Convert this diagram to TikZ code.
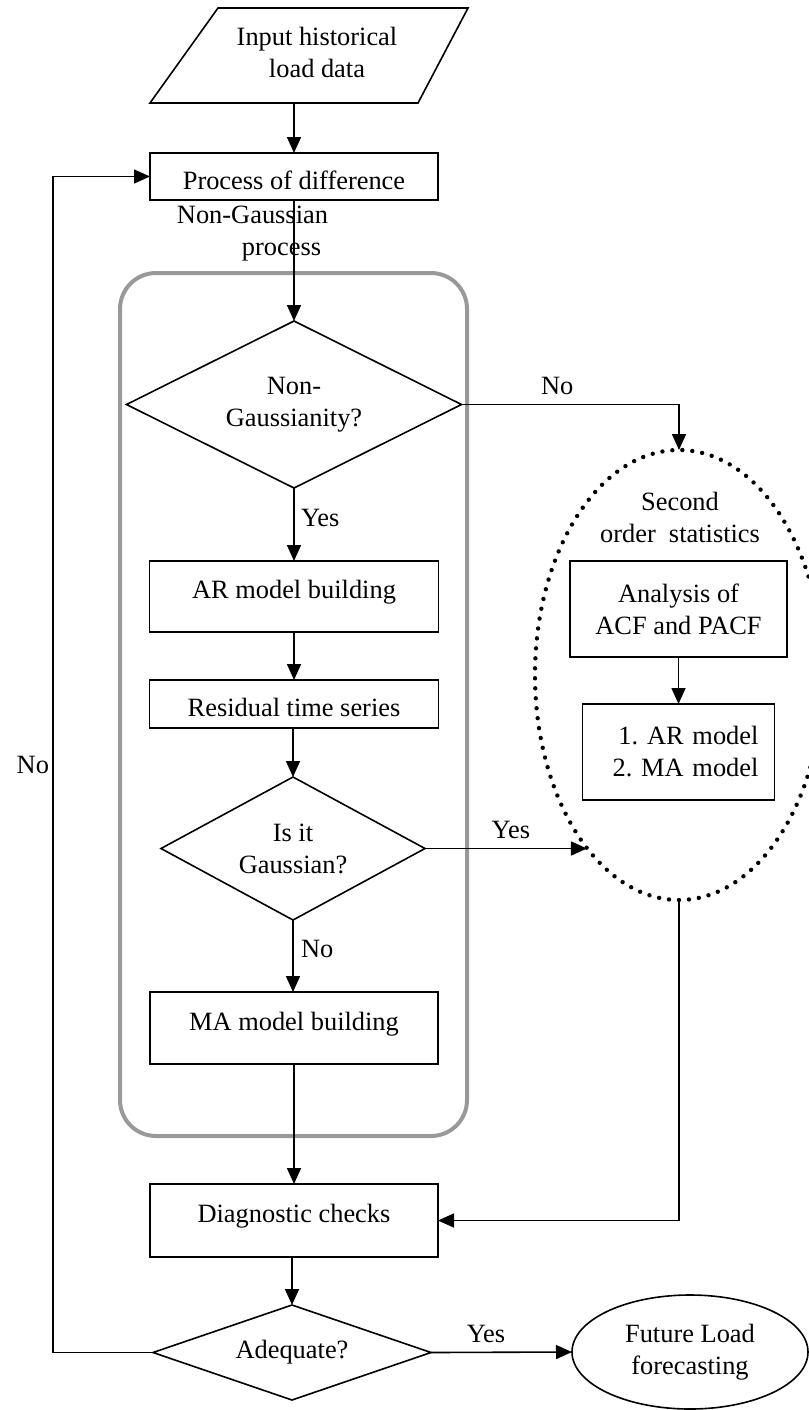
\documentclass[tikz,border=0pt]{standalone}
\usepackage{fontspec}
\setmainfont{Liberation Serif}
\usetikzlibrary{shapes.geometric,arrows.meta}
\definecolor{grpline}{RGB}{153,153,153}
\tikzset{
  base/.style={font=\fontsize{13.2}{16}\selectfont, inner sep=0pt, outer sep=0pt},
  boxs/.style={base, draw, line width=0.8pt, text height=12.5pt, text depth=0pt},
  boxl/.style={base, draw, line width=0.8pt, text height=9.6pt, text depth=7.2pt},
  dec/.style={base, draw, diamond, line width=0.8pt, align=center},
  lbl/.style={base},
  ln/.style={line width=0.8pt},
  arr/.style={line width=0.8pt, -{Triangle[length=8pt,width=7pt]}},
  dots/.style={line width=2.2pt, line cap=round, dash pattern=on 0pt off 5pt}
}
\begin{document}
\begin{tikzpicture}[x=0.5pt,y=-0.5pt]
\useasboundingbox (0,0) rectangle (809,1410);

% group container
\node[base, draw=grpline, line width=2pt, rounded corners=18pt,
      minimum width=173.5pt, minimum height=431.5pt] (grp) at (293.5,704.5) {};

% input parallelogram
\draw[ln] (218,8) -- (468,8) -- (418,103) -- (150,103) -- cycle;
\node[base, align=center] (input) at (317,52) {Input historical\\load data};
\coordinate (inbot) at (294,103);

\node[boxs, minimum width=144pt, minimum height=23.5pt] (proc) at (294,176.5) {Process of difference};
\node[base, align=left] (ngp) at (252.5,234) {Non-Gaussian\\\hspace*{32.5pt}process};

\node[dec, aspect=2.006, minimum width=167.5pt, minimum height=83.5pt] (d1) at (294,404.5) {Non-\\Gaussianity?};
\node[boxl, minimum width=144.5pt, minimum height=35.5pt] (ar) at (294,596.5) {AR model building};
\node[boxs, minimum width=144.5pt, minimum height=24pt] (res) at (294,704) {Residual time series};
\node[dec, aspect=1.846, minimum width=132pt, minimum height=71.5pt] (d2) at (293,848.5) {Is it\\Gaussian?};
\node[boxl, minimum width=144pt, minimum height=36pt] (ma) at (294,1028) {MA model building};
\node[boxl, minimum width=144pt, minimum height=36.5pt] (diag) at (294,1220.5) {Diagnostic checks};
\node[dec, aspect=2.926, minimum width=139pt, minimum height=47.5pt] (adq) at (292,1352.5) {Adequate?};
\node[base, draw, ellipse, line width=0.8pt, align=center,
      minimum width=118pt, minimum height=57pt] (fut) at (690,1352) {Future Load\\forecasting};

% second order statistics group
\node[base, ellipse, draw, dots, minimum width=144pt, minimum height=225pt] (sos) at (679,675) {};
\node[base, align=center] (sostxt) at (680,517) {Second\\order\ \ statistics};
\node[base, draw, line width=0.8pt, align=center,
      minimum width=108.5pt, minimum height=48pt] (acf) at (678.5,609) {Analysis of\\ACF and PACF};
\node[base, draw, line width=0.8pt, align=right, text width=80pt, inner xsep=8pt,
      minimum height=48pt] (mod) at (678.5,752) {1.\ AR model\\2.\ MA model};

\coordinate (loopx) at (53,1352.5);

% connectors
\draw[arr] (inbot) -- (proc.north);
\draw[arr] (proc.south) -- (d1.north);
\draw[arr] (d1.south) -- node[lbl, right=3.5pt, pos=0.41] {Yes} (ar.north);
\draw[arr] (ar.south) -- (res.north);
\draw[arr] (res.south -| d2.north) -- (d2.north);
\draw[arr] (d2.south) -- node[lbl, right=4pt, pos=0.4] {No} (d2.south |- ma.north);
\draw[arr] (ma.south) -- (diag.north);
\draw[arr] (diag.south -| adq.north) -- (adq.north);
\draw[arr] (adq.east) -- node[lbl, above=5pt, pos=0.39] {Yes} (fut.west);
\draw[arr] (d1.east) -| node[lbl, above=5pt, pos=0.22] {No} (sos.north);
\draw[arr] (d2.east) -- node[lbl, above=5pt, pos=0.53] {Yes} (d2.east -| sos.242);
\draw[arr] (acf.south) -- (mod.north);
\draw[arr] (sos.south) |- (diag.east);
\draw[arr] (adq.west) -- (loopx) |- node[lbl, left=2pt, pos=0.25] {No} (proc.west);
\end{tikzpicture}
\end{document}
